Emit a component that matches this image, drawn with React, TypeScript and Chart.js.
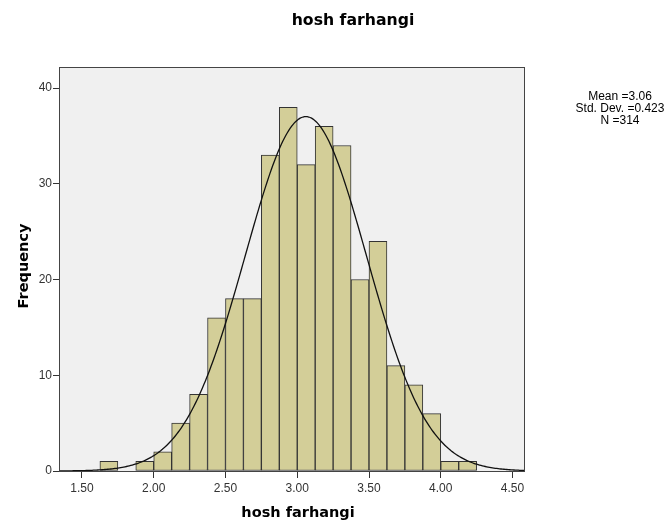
import React, { useEffect, useRef } from "react";
import { Chart, registerables } from "chart.js";

Chart.register(...registerables);

const TITLE = "hosh farhangi";
const X_TITLE = "hosh farhangi";
const Y_TITLE = "Frequency";
const BIN_CENTERS = [
  1.6875, 1.8125, 1.9375, 2.0625, 2.1875, 2.3125, 2.4375, 2.5625, 2.6875, 2.8125, 2.9375,
  3.0625, 3.1875, 3.3125, 3.4375, 3.5625, 3.6875, 3.8125, 3.9375, 4.0625, 4.1875,
];
const FREQUENCIES = [1, 0, 1, 2, 5, 8, 16, 18, 18, 33, 38, 32, 36, 34, 20, 24, 11, 9, 6, 1, 1];
const X_TICKS = [1.5, 2.0, 2.5, 3.0, 3.5, 4.0, 4.5];
const Y_TICKS = [0, 10, 20, 30, 40];
const MEAN = 3.06;
const STD_DEV = 0.423;
const N = 314;
const BIN_WIDTH = 0.125;
const X_MIN = 1.34;
const X_MAX = 4.58;
const Y_MAX = 42.2;
const STATS_LINES = ["Mean =3.06", "Std. Dev. =0.423", "N =314"];

function normalCurve() {
  const pts: { x: number; y: number }[] = [];
  const steps = 324;
  for (let i = 0; i <= steps; i++) {
    const x = X_MIN + ((X_MAX - X_MIN) * i) / steps;
    const z = (x - MEAN) / STD_DEV;
    const y = (N * BIN_WIDTH) / (STD_DEV * Math.sqrt(2 * Math.PI)) * Math.exp(-0.5 * z * z);
    pts.push({ x, y });
  }
  return pts;
}

export default function App() {
  const ref = useRef<HTMLCanvasElement | null>(null);

  useEffect(() => {
    if (!ref.current) return;
    const framePlugin = {
      id: "frame",
      beforeDatasetsDraw(chart: any) {
        const { ctx, chartArea: a } = chart;
        ctx.save();
        ctx.fillStyle = "#F0F0F0";
        ctx.fillRect(a.left, a.top, a.right - a.left, a.bottom - a.top);
        ctx.restore();
      },
      afterDraw(chart: any) {
        const { ctx, chartArea: a } = chart;
        ctx.save();
        ctx.strokeStyle = "#444444";
        ctx.lineWidth = 1;
        ctx.strokeRect(Math.round(a.left) + 0.5, Math.round(a.top) + 0.5, Math.round(a.right - a.left), Math.round(a.bottom - a.top));
        ctx.fillStyle = "#000000";
        ctx.textAlign = "center";
        ctx.textBaseline = "middle";
        ctx.font = "bold 15.7px 'DejaVu Sans'";
        ctx.fillText(TITLE, 353, 21);
        ctx.font = "bold 14.5px 'DejaVu Sans'";
        ctx.fillText(X_TITLE, 298, 513);
        ctx.save();
        ctx.translate(24, 266);
        ctx.rotate(-Math.PI / 2);
        ctx.fillText(Y_TITLE, 0, 0);
        ctx.restore();
        ctx.font = "12px 'Liberation Sans'";
        const ys = [97, 109, 121];
        STATS_LINES.forEach((t, i) => ctx.fillText(t, 620, ys[i]));
        ctx.restore();
      },
    };

    const chart = new Chart(ref.current, {
      type: "bar",
      data: {
        datasets: [
          {
            type: "line",
            data: normalCurve(),
            borderColor: "#111111",
            borderWidth: 1.3,
            pointRadius: 0,
            tension: 0,
            fill: false,
            order: 0,
          } as any,
          {
            type: "bar",
            data: BIN_CENTERS.map((x, i) => ({ x, y: FREQUENCIES[i] })),
            backgroundColor: "#D3CE98",
            borderColor: "#333333",
            borderWidth: 1,
            borderSkipped: false,
            barPercentage: 1,
            categoryPercentage: 1,
            order: 1,
          } as any,
        ],
      },
      options: {
        responsive: false,
        animation: false,
        layout: { padding: { left: 0, right: 144, top: 67, bottom: 0 } },
        plugins: { legend: { display: false }, title: { display: false }, tooltip: { enabled: false } },
        scales: {
          x: {
            type: "linear",
            min: X_MIN,
            max: X_MAX,
            offset: false,
            afterBuildTicks: (s: any) => {
              s.ticks = X_TICKS.map((v) => ({ value: v }));
            },
            afterFit: (s: any) => {
              s.height = 54;
            },
            ticks: {
              callback: (v: any) => Number(v).toFixed(2),
              font: { family: "'Liberation Sans'", size: 12 },
              color: "#333333",
              padding: 3,
              maxRotation: 0,
              autoSkip: false,
            },
            grid: { offset: false, drawOnChartArea: false, drawTicks: true, tickLength: 7, color: "#333333" },
            border: { display: true, color: "#444444" },
          },
          y: {
            min: 0,
            max: Y_MAX,
            afterBuildTicks: (s: any) => {
              s.ticks = Y_TICKS.map((v) => ({ value: v }));
            },
            afterFit: (s: any) => {
              s.width = 59;
            },
            ticks: {
              font: { family: "'Liberation Sans'", size: 12 },
              color: "#333333",
              padding: 1,
            },
            grid: { drawOnChartArea: false, drawTicks: true, tickLength: 6, color: "#333333" },
            border: { display: true, color: "#444444" },
          },
        },
      },
      plugins: [framePlugin],
    });
    return () => chart.destroy();
  }, []);

  return (
    <div style={{ position: "absolute", left: 0, top: 0, width: 668, height: 525, background: "#ffffff" }}>
      <canvas ref={ref} width={668} height={525} />
    </div>
  );
}
